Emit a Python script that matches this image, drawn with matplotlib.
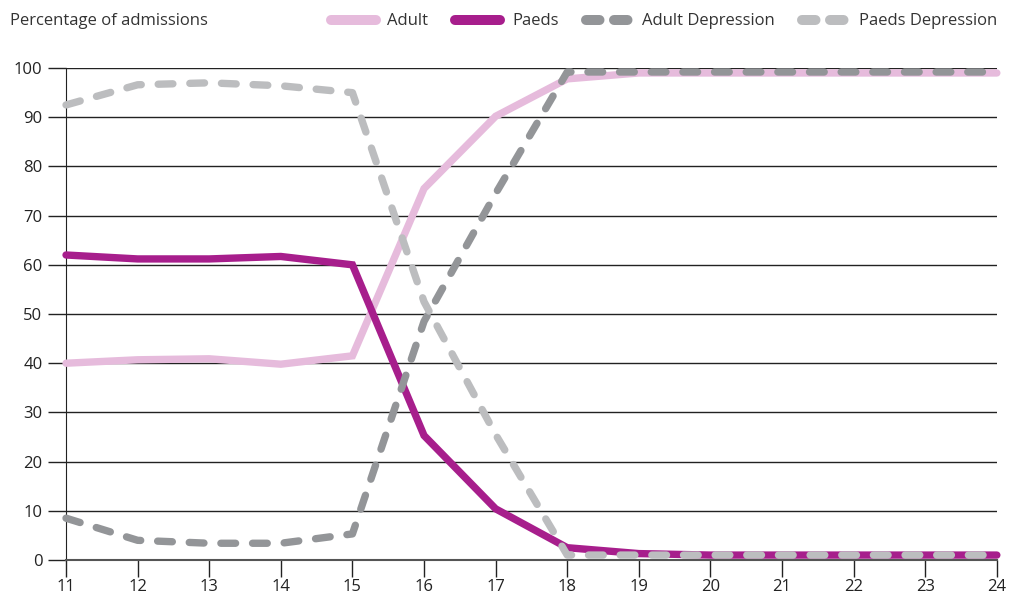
import matplotlib
matplotlib.use("Agg")
import matplotlib.pyplot as plt
from matplotlib.lines import Line2D

ages = [11, 12, 13, 14, 15, 16, 17, 18, 19, 20, 21, 22, 23, 24]
adult = [40, 40.7, 40.9, 39.8, 41.5, 75.5, 90.2, 97.8, 99, 99, 99, 99, 99, 99]
paeds = [62, 61.2, 61.2, 61.7, 60, 25.3, 10.4, 2.5, 1.3, 1, 1, 1, 1, 1]
adult_dep = [8.5, 4, 3.4, 3.4, 5.3, 48.5, 74.5, 99.2, 99.2, 99.2, 99.2, 99.2, 99.2, 99.2]
paeds_dep = [92.5, 96.6, 97, 96.4, 95, 52.5, 25.5, 1, 1, 1, 1, 1, 1, 1]

series_names = ["Adult", "Paeds", "Adult Depression", "Paeds Depression"]
colors = ["#E6BBDC", "#A71E8C", "#939598", "#BCBDBF"]

plt.rcParams['font.family'] = ['Open Sans', 'DejaVu Sans']

fig = plt.figure(figsize=(10.11, 5.97), dpi=100)
ax = fig.add_axes([0.0653, 0.062, 0.9207, 0.824])

lw = 5.3
dash = (2.0, 2.3)
ax.plot(ages, adult, color=colors[0], lw=lw, solid_capstyle='round', solid_joinstyle='miter', clip_on=False, zorder=3)
ax.plot(ages, paeds, color=colors[1], lw=lw, solid_capstyle='round', solid_joinstyle='miter', clip_on=False, zorder=4)
l1, = ax.plot(ages, adult_dep, color=colors[2], lw=lw, dash_capstyle='round', clip_on=False, zorder=5)
l1.set_dashes(dash)
l2, = ax.plot(ages, paeds_dep, color=colors[3], lw=lw, dash_capstyle='round', clip_on=False, zorder=6)
l2.set_dashes(dash)

ax.set_xlim(11, 24)
ax.set_ylim(0, 100)
ax.set_xticks(ages)
ax.set_yticks(range(0, 101, 10))
ax.yaxis.grid(True, color='#222222', lw=1.0, zorder=1)
ax.set_axisbelow(True)
for s in ['top', 'right']:
    ax.spines[s].set_visible(False)
ax.spines['left'].set_color('#222222')
ax.spines['bottom'].set_color('#555555')
ax.spines['bottom'].set_linewidth(1.5)
ax.tick_params(axis='y', length=13, width=1.0, color='#222222', labelsize=12, pad=4, labelcolor='#222222')
ax.tick_params(axis='x', length=12, width=1.0, color='#222222', labelsize=12, pad=2, labelcolor='#222222', direction='out')

fig.text(0.01, 0.964, "Percentage of admissions", fontsize=12, color='#333333', va='center', ha='left')

handles = []
for i, (n, c) in enumerate(zip(series_names, colors)):
    h = Line2D([0], [0], color=c, lw=7.2, solid_capstyle='round', dash_capstyle='round')
    if i >= 2:
        h.set_dashes((1.35, 1.45))
    handles.append(h)
leg = fig.legend(handles, series_names, loc='center right', bbox_to_anchor=(0.986, 0.964),
                 ncol=4, frameon=False, fontsize=12, handlelength=2.7, handletextpad=0.7,
                 columnspacing=1.62, borderaxespad=0, borderpad=0)
for t in leg.get_texts():
    t.set_color('#333333')

fig.savefig("out.png", dpi=100)
